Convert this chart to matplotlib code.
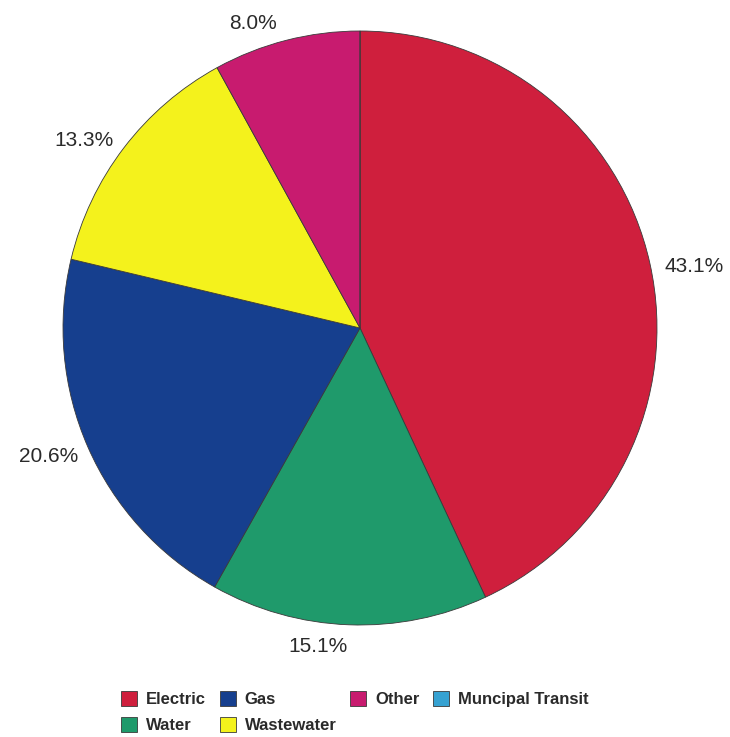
import numpy as np
import matplotlib.pyplot as plt

categories = ["Electric", "Water", "Gas", "Wastewater", "Other", "Muncipal Transit"]
shares = [43.1, 15.1, 20.6, 13.3, 8.0, 0.0]
colors = ["#cf1f3d", "#1f9a6b", "#163f8e", "#f4f21c", "#c81b6f", "#36a2d2"]
# small angular nudges (deg) so labels sit where the original put them
label_nudge = [-1.5, -5.0, 0.0, 1.5, 4.0, 0.0]

plt.rcParams['font.family'] = ['Liberation Sans', 'DejaVu Sans']

fig = plt.figure(figsize=(7.3, 7.37), dpi=100)
# pie centre at (360, 328) px, radius 297 px
W, H = 730, 737
cx, cy, r = 360, 328, 297
ax = fig.add_axes([(cx - r) / W, (H - cy - r) / H, 2 * r / W, 2 * r / H])

wedges, texts = ax.pie(
    shares, colors=colors, startangle=90, counterclock=False, radius=1,
    wedgeprops=dict(edgecolor="#3a3a3a", linewidth=0.6))
ax.set_xlim(-1, 1)
ax.set_ylim(-1, 1)
ax.set_aspect('equal')
ax.axis('off')

# "outside end" labels: text box edge sits just off the rim
total = sum(shares)
half_w = 31 / r   # approx half label width in axes units
half_h = 12 / r
gap = 1 + 12 / r
for w, val, nudge in zip(wedges, shares, label_nudge):
    if val <= 0:
        continue
    theta = np.deg2rad((w.theta1 + w.theta2) / 2 + nudge)
    c, s = np.cos(theta), np.sin(theta)
    x = gap * c + half_w * c
    y = gap * s + half_h * s
    ax.text(x, y, f"{val / total * 100:.1f}%", ha='center', va='center',
            fontsize=15, color="#2a2a2a", clip_on=False)

leg = fig.legend(wedges, categories, ncol=4, loc='upper left',
                 bbox_to_anchor=(112.7 / W, 1 - 683 / H), frameon=False,
                 prop=dict(weight='bold', size=12), labelcolor="#2a2a2a",
                 handlelength=0.96, handleheight=0.96, handletextpad=0.55,
                 columnspacing=0.8, labelspacing=0.6, borderpad=0)

fig.savefig("out.png", dpi=100)
